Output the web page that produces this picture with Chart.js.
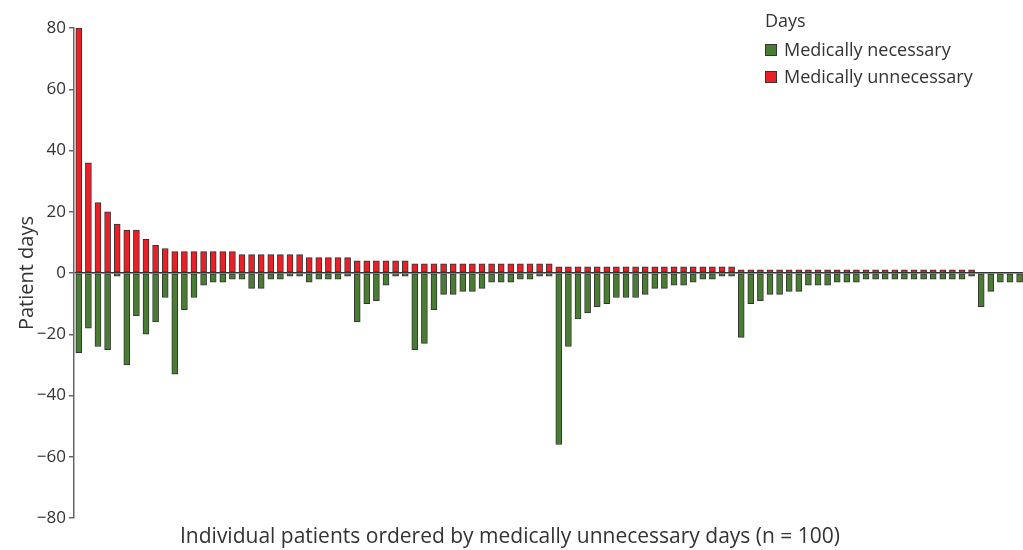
<!DOCTYPE html>
<html>
<head>
<meta charset="utf-8">
<script src="https://cdn.jsdelivr.net/npm/chart.js@4/dist/chart.umd.min.js"></script>
<style>
  html, body { margin: 0; padding: 0; background: #fff; overflow: hidden; }
  #wrap { position: relative; width: 1023px; height: 550px; overflow: hidden; }
  canvas { position: absolute; left: 0; top: 0; }
  #legend { position: absolute; left: 765px; top: 8px; font-family: "Open Sans", sans-serif; color: #333; font-size: 18px; }
  #legend .ttl { line-height: 24px; height: 24px; margin-bottom: 4px; }
  #legend .item { display: flex; align-items: center; line-height: 27px; height: 27px; }
  #legend .sw { width: 10px; height: 10px; border: 1px solid #333; margin-right: 7px; }
</style>
</head>
<body>
<div id="wrap">
  <canvas id="c" width="1034" height="550"></canvas>
  <div id="legend">
    <div class="ttl">Days</div>
    <div class="item"><span class="sw" id="sw0"></span>Medically necessary</div>
    <div class="item"><span class="sw" id="sw1"></span>Medically unnecessary</div>
  </div>
</div>
<script>
// Patients 1..100, ordered by medically unnecessary days
const patients = Array.from({ length: 100 }, (_, i) => String(i + 1));

// Medically unnecessary days per patient
const unnecessaryDays = [
  80, 36, 23, 20, 16, 14, 14, 11, 9, 8,
  7, 7, 7, 7, 7, 7, 7, 6, 6, 6,
  6, 6, 6, 6, 5, 5, 5, 5, 5, 4,
  4, 4, 4, 4, 4, 3, 3, 3, 3, 3,
  3, 3, 3, 3, 3, 3, 3, 3, 3, 3,
  2, 2, 2, 2, 2, 2, 2, 2, 2, 2,
  2, 2, 2, 2, 2, 2, 2, 2, 2, 1,
  1, 1, 1, 1, 1, 1, 1, 1, 1, 1,
  1, 1, 1, 1, 1, 1, 1, 1, 1, 1,
  1, 1, 1, 1, 0, 0, 0, 0, 0, 0
];

// Medically necessary days per patient (drawn below zero)
const necessaryDays = [
  26, 18, 24, 25, 1, 30, 14, 20, 16, 8,
  33, 12, 8, 4, 3, 3, 2, 2, 5, 5,
  2, 2, 1, 1, 3, 2, 2, 2, 1, 16,
  10, 9, 4, 1, 1, 25, 23, 12, 7, 7,
  6, 6, 5, 3, 3, 3, 2, 2, 1, 1,
  56, 24, 15, 13, 11, 10, 8, 8, 8, 7,
  5, 5, 4, 4, 3, 2, 2, 1, 1, 21,
  10, 9, 7, 7, 6, 6, 4, 4, 4, 3,
  3, 3, 2, 2, 2, 2, 2, 2, 2, 2,
  2, 2, 2, 1, 11, 6, 3, 3, 3, 3
];

const yTicks = [-80, -60, -40, -20, 0, 20, 40, 60, 80];
const seriesNames = ['Medically necessary', 'Medically unnecessary'];
const seriesColors = ['#4a7d34', '#ec1f27'];
const xTitle = 'Individual patients ordered by medically unnecessary days (n = 100)';
const yTitle = 'Patient days';

document.getElementById('sw0').style.background = seriesColors[0];
document.getElementById('sw1').style.background = seriesColors[1];

Chart.defaults.font.family = '"Open Sans", sans-serif';
Chart.defaults.color = '#333';

const bottomTitle = {
  id: 'bottomTitle',
  afterDraw(chart) {
    const ctx = chart.ctx;
    ctx.save();
    ctx.font = '21px "Open Sans", sans-serif';
    ctx.fillStyle = '#333';
    ctx.textAlign = 'center';
    ctx.textBaseline = 'middle';
    ctx.fillText(xTitle, 510, 537);
    ctx.restore();
  }
};

const barStyle = {
  borderColor: '#333',
  borderWidth: 1,
  borderSkipped: false,
  barThickness: 6
};

new Chart(document.getElementById('c'), {
  type: 'bar',
  data: {
    labels: patients,
    datasets: [
      Object.assign({
        label: seriesNames[0],
        data: necessaryDays.map(v => -v),
        backgroundColor: seriesColors[0]
      }, barStyle),
      Object.assign({
        label: seriesNames[1],
        data: unnecessaryDays,
        backgroundColor: seriesColors[1]
      }, barStyle)
    ]
  },
  options: {
    responsive: false,
    animation: false,
    layout: { padding: { top: 28, bottom: 32, left: 0, right: 0 } },
    plugins: {
      legend: { display: false },
      tooltip: { enabled: false },
      title: { display: false }
    },
    scales: {
      x: {
        stacked: true,
        display: false
      },
      y: {
        stacked: true,
        min: -80,
        max: 80,
        afterBuildTicks(scale) {
          scale.ticks = yTicks.map(v => ({ value: v }));
        },
        afterFit(scale) { scale.width = 74; },
        ticks: {
          font: { size: 17 },
          color: '#333',
          padding: 3,
          callback: v => (v < 0 ? '\u2212' + Math.abs(v) : String(v))
        },
        grid: {
          color: ctx => (ctx.tick && ctx.tick.value === 0 ? '#333' : 'rgba(0,0,0,0)'),
          lineWidth: 1.5,
          tickColor: '#666',
          tickLength: 5,
          drawTicks: true
        },
        border: { display: true, color: '#666', width: 1.5 },
        title: {
          display: true,
          text: yTitle,
          font: { size: 20 },
          color: '#333',
          padding: { top: 15, bottom: 0 }
        }
      }
    }
  },
  plugins: [bottomTitle]
});
</script>
</body>
</html>
